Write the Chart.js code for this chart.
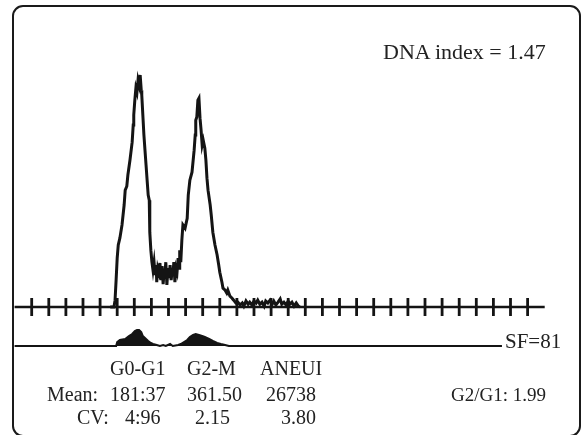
<!DOCTYPE html>
<html lang="en">
<head>
    <meta charset="UTF-8">
    <title>DNA Histogram</title>
    <style>
        body {
            margin: 0;
            background-color: white;
            font-family: "Liberation Serif", "Times New Roman", serif;
        }
        .wrap {
            position: relative;
            width: 582px;
            height: 435px;
            overflow: hidden;
        }
        .frame {
            position: absolute;
            left: 12px;
            top: 5px;
            width: 565px;
            height: 428px;
            border: 2px solid #1a1a1a;
            border-radius: 11px;
        }
        canvas {
            position: absolute;
            left: 0;
            top: 0;
        }
        .t {
            position: absolute;
            font-size: 20px;
            line-height: 20px;
            color: #222;
            white-space: nowrap;
        }
        .big {
            font-size: 22px;
            line-height: 22px;
        }
        .sf {
            font-size: 21px;
            line-height: 21px;
        }
        .ratio {
            font-size: 19px;
            line-height: 19px;
        }
    </style>
</head>
<body>
<div class="wrap">
    <div class="frame"></div>
    <canvas id="histChart" width="582" height="435"></canvas>

    <div class="t big" style="left:383px; top:41px;">DNA index = 1.47</div>
    <div class="t sf" style="left:505px; top:331px;">SF=81</div>

    <div class="t" style="left:110px; top:358px;">G0-G1</div>
    <div class="t" style="left:187px; top:358px;">G2-M</div>
    <div class="t" style="left:260px; top:358px;">ANEUI</div>

    <div class="t" style="left:47px; top:384px;">Mean:</div>
    <div class="t" style="left:110px; top:384px;">181:37</div>
    <div class="t" style="left:187px; top:384px;">361.50</div>
    <div class="t" style="left:266px; top:384px;">26738</div>
    <div class="t ratio" style="left:451px; top:385px;">G2/G1: 1.99</div>

    <div class="t" style="left:77px; top:407px;">CV:</div>
    <div class="t" style="left:125px; top:407px;">4:96</div>
    <div class="t" style="left:195px; top:407px;">2.15</div>
    <div class="t" style="left:281px; top:407px;">3.80</div>
</div>

<script src="https://cdn.jsdelivr.net/npm/chart.js"></script>
<script>
    // DNA content histogram (channel -> cell count)
    const channels = [179, 186, 188, 190, 192, 194, 197, 201, 205, 207, 210, 212, 216, 220, 222, 223, 225, 227, 229, 231,
        233, 235, 237, 238, 240, 242, 244, 246, 248, 250, 252, 253, 255, 257, 259, 261, 263, 265, 266, 268,
        270, 272, 274, 276, 278, 280, 281, 283, 285, 287, 289, 291, 293, 295, 296, 298, 300, 302, 304, 306,
        308, 309, 311, 313, 315, 319, 323, 325, 328, 332, 336, 338, 339, 341, 343, 345, 347, 349, 351, 353,
        356, 358, 360, 362, 366, 368, 371, 375, 379, 382, 384, 388, 390, 394, 397, 399, 403, 407, 410, 414,
        418, 422, 426, 429, 433, 437, 440, 444, 448, 452, 455, 459, 463, 467, 470, 474, 478, 482, 485, 489,
        493, 497, 500, 504, 508, 512, 515, 519, 523, 527, 531, 534];
    const counts = [0, 0, 17, 68, 122, 155, 172, 205, 255, 292, 302, 330, 368, 412, 455, 480, 517, 547, 537, 567,
        555, 580, 542, 530, 480, 430, 392, 355, 317, 280, 267, 187, 142, 112, 92, 112, 80, 105, 62, 97,
        87, 110, 67, 102, 57, 92, 80, 112, 55, 97, 72, 105, 67, 92, 77, 112, 62, 97, 87, 122,
        97, 142, 112, 167, 205, 197, 222, 280, 317, 337, 392, 430, 467, 475, 517, 522, 472, 442, 405, 417,
        397, 367, 322, 292, 255, 230, 187, 155, 130, 105, 87, 62, 47, 42, 35, 42, 27, 22, 17, 10,
        12, 5, 10, 2, 15, 7, 12, 5, 15, 10, 17, 7, 12, 2, 15, 10, 17, 7, 15, 5,
        12, 20, 7, 12, 5, 15, 7, 12, 2, 10, 2, 0];

    // fitted-component residual trace (lower panel)
    const fitChannels = [0, 160, 190, 192, 197, 207, 214, 220, 225, 229, 233, 237, 240, 246, 250, 255, 259, 266, 272, 278,
        283, 291, 296, 306, 311, 317, 323, 328, 334, 339, 345, 351, 356, 364, 371, 379, 386, 394, 401, 912];
    const fitValues = [0, 0, 0, 4, 6, 7, 10, 12, 15, 16, 16, 14, 10, 7, 5, 3, 2, 1, 0, 1,
        0, 2, 0, 1, 2, 4, 6, 9, 11, 12, 11, 10, 9, 7, 5, 3, 2, 1, 0, 0];

    // channel axis tick marks
    const tickChannels = [32, 64, 96, 128, 160, 192, 224, 256, 288, 320, 352, 384, 416, 448, 480,
        512, 544, 576, 608, 640, 672, 704, 736, 768, 800, 832, 864, 896, 928, 960];
    const axisEnd = 992;

    const ink = '#141414';

    const ctx = document.getElementById('histChart').getContext('2d');
    const histChart = new Chart(ctx, {
        type: 'line',
        data: {
            datasets: [
                {
                    // histogram trace
                    data: channels.map((c, i) => ({ x: c, y: counts[i] })),
                    borderColor: ink,
                    borderWidth: 3,
                    pointRadius: 0,
                    tension: 0,
                    yAxisID: 'y'
                },
                {
                    // channel axis line
                    data: [{ x: 0, y: 0 }, { x: axisEnd, y: 0 }],
                    borderColor: ink,
                    borderWidth: 2.6,
                    pointRadius: 0,
                    yAxisID: 'y'
                },
                {
                    // tick marks crossing the axis
                    data: tickChannels.map(c => ({ x: c, y: 0 })),
                    showLine: false,
                    pointStyle: 'line',
                    rotation: 90,
                    pointRadius: 9,
                    borderColor: ink,
                    borderWidth: 2.8,
                    yAxisID: 'y'
                },
                {
                    // lower panel residual
                    data: fitChannels.map((c, i) => ({ x: c, y: fitValues[i] })),
                    borderColor: ink,
                    borderWidth: 2,
                    backgroundColor: ink,
                    fill: 'origin',
                    pointRadius: 0,
                    tension: 0,
                    yAxisID: 'y2'
                }
            ]
        },
        options: {
            responsive: false,
            animation: false,
            clip: false,
            layout: { padding: 0, autoPadding: false },
            plugins: {
                legend: { display: false },
                tooltip: { enabled: false }
            },
            scales: {
                x: { type: 'linear', display: false, min: -27.3, max: 1061.8 },
                y: { display: false, min: -320, max: 767.5 },
                y2: { display: false, min: -89, max: 346 }
            }
        }
    });
</script>
</body>
</html>
